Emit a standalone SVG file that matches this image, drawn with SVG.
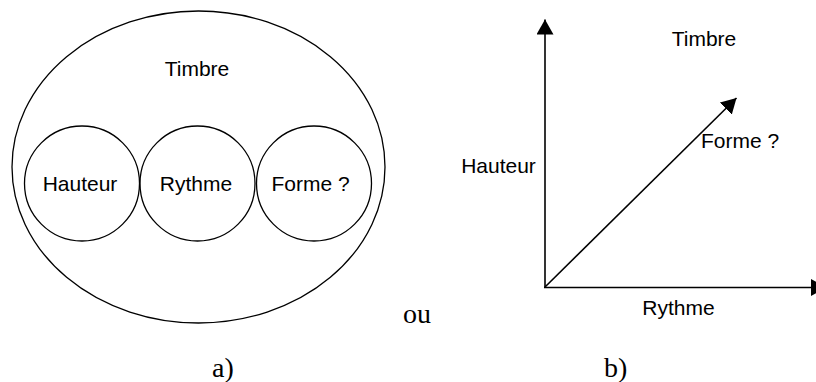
<svg xmlns="http://www.w3.org/2000/svg" width="816" height="382" viewBox="0 0 816 382">
<style>
.s{font-family:"Liberation Sans",Arial,sans-serif;font-size:21px;fill:#000}
.m{text-anchor:middle}
.r{font-family:"Liberation Serif","Times New Roman",serif;font-size:28px;fill:#000}
.o{fill:none;stroke:#000;stroke-width:1.3}
.ax{fill:none;stroke:#000;stroke-width:1.6}
</style>
<defs>
<marker id="ah" markerUnits="userSpaceOnUse" markerWidth="16" markerHeight="17" refX="15" refY="8.5" orient="auto" viewBox="0 0 16 17">
<path d="M0,0 L15,8.5 L0,17 z" fill="#000"/>
</marker>
</defs>
<rect width="816" height="382" fill="#fff"/>
<g id="timbre-a">
<ellipse class="o" cx="198.5" cy="167" rx="186.5" ry="156"/>
<text class="s m" x="197" y="76">Timbre</text>
</g>
<g id="hauteur-a">
<circle class="o" cx="82" cy="183.5" r="57.5"/>
<text class="s m" x="80" y="191">Hauteur</text>
</g>
<g id="rythme-a">
<circle class="o" cx="197.5" cy="183.5" r="57.5"/>
<text class="s m" x="196" y="191">Rythme</text>
</g>
<g id="forme-a">
<circle class="o" cx="314" cy="183.5" r="57.5"/>
<text class="s m" x="310.5" y="191">Forme ?</text>
</g>
<text class="r" x="403" y="323">ou</text>
<text class="r" x="212" y="377">a)</text>
<text class="r" x="604" y="377">b)</text>
<g id="connectors">
<line class="ax" x1="545" y1="288" x2="545" y2="19.5" marker-end="url(#ah)"/>
<line class="ax" x1="544" y1="287.5" x2="826" y2="287.5" marker-end="url(#ah)"/>
<line class="ax" x1="545" y1="287" x2="736.5" y2="98" marker-end="url(#ah)"/>
</g>
<g id="labels-b">
<text class="s m" x="704" y="46">Timbre</text>
<text class="s" x="701" y="148">Forme ?</text>
<text class="s m" x="498.5" y="173">Hauteur</text>
<text class="s m" x="678.5" y="315">Rythme</text>
</g>
</svg>
